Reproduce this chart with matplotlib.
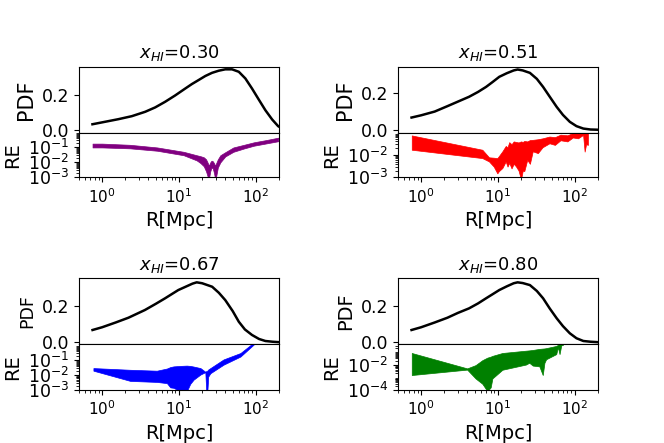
import matplotlib
matplotlib.use("Agg")
import matplotlib.pyplot as plt
import numpy as np

# ---------------- data ----------------
titles = ["0.30", "0.51", "0.67", "0.80"]

# PDF curves
pdf_R_a = [0.748, 1.09, 1.63, 2.43, 3.63, 4.9, 6.6, 8.9, 12.1, 14.7, 18, 22, 26.9, 32.8, 40, 49, 60, 73, 89, 109, 133, 163, 195, 240]
pdf_v_a = [0.034, 0.048, 0.063, 0.080, 0.105, 0.130, 0.162, 0.198, 0.238, 0.263, 0.286, 0.309, 0.327, 0.339, 0.347, 0.347, 0.333, 0.295, 0.238, 0.175, 0.114, 0.061, 0.023, 0.0]

pdf_R_b = [0.75, 1.0, 1.5, 2.2, 3.0, 4.2, 5.5, 7.0, 8.5, 10.4, 13, 16, 18, 21, 26, 32, 38.6, 47, 58, 70, 86, 105, 129, 160, 193]
pdf_v_b = [0.068, 0.080, 0.100, 0.129, 0.153, 0.179, 0.205, 0.232, 0.258, 0.286, 0.305, 0.320, 0.325, 0.320, 0.307, 0.275, 0.232, 0.180, 0.125, 0.082, 0.045, 0.022, 0.009, 0.004, 0.003]

pdf_R_c = [0.75, 1.0, 1.5, 2.2, 3.6, 5.0, 6.6, 8.0, 9.8, 12.5, 15, 17, 20, 27, 33, 40, 50, 60, 72, 89, 110, 133, 165, 195]
pdf_v_c = [0.067, 0.082, 0.108, 0.134, 0.176, 0.210, 0.240, 0.262, 0.285, 0.305, 0.320, 0.327, 0.322, 0.303, 0.270, 0.230, 0.170, 0.112, 0.070, 0.040, 0.018, 0.007, 0.003, 0.001]

pdf_R_d = [0.75, 1.0, 1.5, 2.2, 3.0, 4.2, 5.5, 7.0, 8.5, 10.4, 13, 16, 18, 21, 26, 32, 38.6, 47, 58, 70, 86, 105, 129, 160, 193]
pdf_v_d = [0.067, 0.082, 0.108, 0.134, 0.160, 0.185, 0.212, 0.240, 0.262, 0.285, 0.305, 0.322, 0.327, 0.323, 0.312, 0.280, 0.240, 0.185, 0.131, 0.088, 0.049, 0.022, 0.007, 0.003, 0.001]

# relative-error bands (R, lower, upper)
re_R_a = [0.75, 1.0, 2.3, 5.2, 11.5, 17, 19, 21, 22.5, 23.5, 24.5, 25.5, 26.5, 27.5, 28.5, 29.5, 30.5, 32, 34.5, 40, 51, 70, 94, 140, 195]
re_lo_a = [0.10, 0.10, 0.087, 0.060, 0.030, 0.0135, 0.009, 0.0055, 0.0025, 0.0012, 0.0008, 0.0025, 0.0045, 0.0040, 0.0020, 0.0008, 0.0012, 0.0045, 0.010, 0.025, 0.051, 0.085, 0.13, 0.19, 0.26]
re_hi_a = [0.18, 0.18, 0.15, 0.10, 0.051, 0.030, 0.026, 0.022, 0.016, 0.010, 0.006, 0.010, 0.013, 0.012, 0.009, 0.006, 0.009, 0.016, 0.030, 0.048, 0.10, 0.15, 0.22, 0.32, 0.45]

re_R_b = [0.755, 6.25, 7.64, 8.8, 9.8, 10.3, 11.4, 12.6, 13.3, 14.0, 15.0, 16.0, 17.1, 18.5, 19.9, 21.0, 22.0, 24.0, 26.0, 28.3, 33, 38, 46.7, 55, 65, 80, 94, 110, 128, 134, 140, 148]
re_lo_b = [0.017, 0.0072, 0.0051, 0.0030, 0.0015, 0.0019, 0.0026, 0.0051, 0.0030, 0.0044, 0.0025, 0.0040, 0.0031, 0.0020, 0.0008, 0.0020, 0.0019, 0.0060, 0.0040, 0.0145, 0.012, 0.022, 0.033, 0.028, 0.045, 0.040, 0.060, 0.055, 0.078, 0.014, 0.030, 0.028]
re_hi_b = [0.074, 0.017, 0.0078, 0.0075, 0.0072, 0.009, 0.0145, 0.025, 0.022, 0.037, 0.030, 0.040, 0.038, 0.036, 0.040, 0.038, 0.042, 0.040, 0.046, 0.047, 0.050, 0.055, 0.066, 0.062, 0.080, 0.075, 0.095, 0.10, 0.12, 0.12, 0.12, 0.12]

re_R_c = [0.77, 2.32, 5.15, 6.96, 7.7, 8.5, 10.4, 12.6, 14.0, 15.5, 19, 22, 22.7, 23.3, 24.0, 25.6, 38, 63, 94]
re_lo_c = [0.020, 0.0041, 0.0035, 0.0029, 0.0015, 0.0014, 0.0008, 0.0008, 0.0026, 0.005, 0.011, 0.016, 0.0006, 0.0006, 0.008, 0.0135, 0.051, 0.18, 1.17]
re_hi_c = [0.030, 0.023, 0.020, 0.028, 0.035, 0.039, 0.042, 0.044, 0.042, 0.038, 0.030, 0.017, 0.019, 0.020, 0.024, 0.030, 0.115, 0.31, 1.6]

re_R_d = [0.755, 3.97, 5.1, 6.25, 7.27, 8.03, 8.45, 11.4, 23.1, 25.5, 28.3, 34.5, 38.2, 40.2, 42.3, 57.2, 60.1, 63.2, 66.5, 70]
re_lo_d = [0.0015, 0.0040, 0.00081, 0.00031, 0.00008, 0.00016, 0.00081, 0.0039, 0.010, 0.0138, 0.0083, 0.0072, 0.0015, 0.0138, 0.026, 0.066, 0.23, 0.066, 0.32, 0.35]
re_hi_d = [0.081, 0.0050, 0.009, 0.022, 0.035, 0.042, 0.048, 0.081, 0.123, 0.13, 0.14, 0.17, 0.18, 0.185, 0.195, 0.29, 0.35, 0.45, 0.50, 0.54]

colors = ["purple", "red", "blue", "green"]
re_ylims = [(1e-3, 1.0), (1e-3, 0.1), (1e-3, 1.2), (1e-4, 0.39)]
re_yticks = [[1e-3, 1e-2, 1e-1], [1e-3, 1e-2], [1e-3, 1e-2, 1e-1], [1e-4, 1e-2]]
pdf_label_sizes = [15, 15, 12.5, 14]

pdfs = [(pdf_R_a, pdf_v_a), (pdf_R_b, pdf_v_b), (pdf_R_c, pdf_v_c), (pdf_R_d, pdf_v_d)]
res = [(re_R_a, re_lo_a, re_hi_a), (re_R_b, re_lo_b, re_hi_b),
       (re_R_c, re_lo_c, re_hi_c), (re_R_d, re_lo_d, re_hi_d)]
pdf_ylims = [(-0.013, 0.362), (-0.012, 0.34), (-0.011, 0.349), (-0.011, 0.349)]

# ---------------- layout ----------------
W, H = 664, 443
fig = plt.figure(figsize=(W / 100, H / 100), dpi=100)

lefts = [79, 398, 79, 398]
pdf_top = [66.7, 66.7, 278.3, 278.3]
mid = [132.5, 132.5, 344.3, 344.3]
bot = [177.3, 177.3, 390.0, 390.0]
width = 200

for i in range(4):
    l = lefts[i] / W
    w = width / W
    ax1 = fig.add_axes([l, (H - mid[i]) / H, w, (mid[i] - pdf_top[i]) / H])
    ax2 = fig.add_axes([l, (H - bot[i]) / H, w, (bot[i] - mid[i]) / H], sharex=ax1)

    R, v = pdfs[i]
    ax1.plot(R, v, color="black", lw=1.8)
    ax1.set_xscale("log")
    ax1.set_xlim(0.5, 200)
    ax1.set_ylim(*pdf_ylims[i])
    ax1.set_yticks([0.0, 0.2])
    ax1.set_yticklabels(["0.0", "0.2"])
    ax1.tick_params(axis="y", labelsize=12.5)
    ax1.tick_params(axis="x", labelbottom=False)
    ax1.set_ylabel("PDF", fontsize=pdf_label_sizes[i])
    ax1.set_title(r"$x_{HI}$=" + titles[i], fontsize=13)

    Rr, lo, hi = res[i]
    ax2.fill_between(Rr, lo, hi, color=colors[i], lw=0.5)
    ax2.set_yscale("log")
    ax2.set_ylim(*re_ylims[i])
    ax2.set_yticks(re_yticks[i])
    ax2.tick_params(axis="y", labelsize=12.5)
    ax2.tick_params(axis="x", labelsize=11)
    ax2.set_ylabel("RE", fontsize=14)
    ax2.set_xlabel("R[Mpc]", fontsize=14)

fig.savefig("out.png", dpi=100)
